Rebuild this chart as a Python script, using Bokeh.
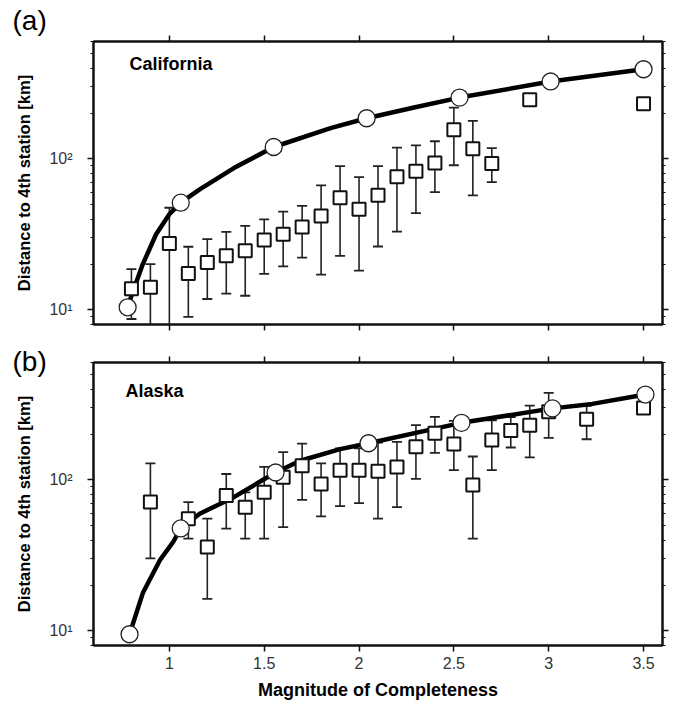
from bokeh.plotting import figure
from bokeh.models import (Range1d, FixedTicker, LogAxis, LinearAxis, Label,
                          CustomJSTickFormatter)
from bokeh.layouts import column
from bokeh.embed import file_html
from bokeh.resources import INLINE

# ---------------- data ----------------
x_ticks = [1, 1.5, 2, 2.5, 3, 3.5]
y_major = [10, 100]
y_minor = [8, 9, 20, 30, 40, 50, 60, 70, 80, 90, 200, 300, 400, 500, 600]

# (a) California
ca_sq_x = [0.8, 0.9, 1.0, 1.1, 1.2, 1.3, 1.4, 1.5, 1.6, 1.7, 1.8, 1.9, 2.0,
           2.1, 2.2, 2.3, 2.4, 2.5, 2.6, 2.7, 2.9, 3.5]
ca_sq_y = [13.8, 14.1, 27.5, 17.4, 20.6, 22.8, 24.6, 29.0, 31.7, 35.4, 41.9,
           55.3, 46.4, 57.4, 76.1, 82.9, 94.1, 156, 117, 93.2, 247, 232]
ca_err_x = [0.8, 0.9, 1.0, 1.1, 1.2, 1.3, 1.4, 1.5, 1.6, 1.7, 1.8, 1.9, 2.0,
            2.1, 2.2, 2.3, 2.4, 2.5, 2.6, 2.7]
ca_err_hi = [18.6, 20.1, 47.5, 26.2, 29.4, 32.9, 36.0, 39.8, 44.7, 48.8, 66.8,
             89.5, 75.7, 89.5, 119, 123, 131, 219, 179, 118]
ca_err_lo = [8.7, 7.0, 7.0, 9.0, 11.8, 12.8, 12.4, 17.3, 19.4, 22.2, 17.1,
             22.8, 18.2, 26.3, 33.0, 43.7, 60.3, 90.8, 57.4, 70.2]
ca_circ_x = [0.78, 1.06, 1.55, 2.04, 2.53, 3.01, 3.5]
ca_circ_y = [10.4, 51.3, 120, 186, 255, 326, 393]
ca_curve_x = [0.78, 0.80, 0.86, 0.93, 1.0, 1.06, 1.16, 1.34, 1.55, 1.85,
              2.04, 2.29, 2.53, 3.01, 3.5]
ca_curve_y = [10.4, 12.4, 20.1, 31.7, 43, 51.3, 62.8, 87, 120, 160, 186,
              219, 255, 326, 393]

# (b) Alaska
ak_sq_x = [0.9, 1.1, 1.2, 1.3, 1.4, 1.5, 1.6, 1.7, 1.8, 1.9, 2.0, 2.1, 2.2,
           2.3, 2.4, 2.5, 2.6, 2.7, 2.8, 2.9, 3.0, 3.2, 3.5]
ak_sq_y = [71.3, 55.4, 36.0, 78.9, 66.0, 82.8, 104, 124, 94, 116, 116, 114,
           122, 166, 204, 173, 92.7, 184, 213, 230, 283, 252, 300]
ak_err_x = [0.9, 1.1, 1.2, 1.3, 1.4, 1.5, 1.6, 1.7, 1.8, 1.9, 2.0, 2.1, 2.2,
            2.3, 2.4, 2.5, 2.6, 2.7, 2.8, 2.9, 3.0, 3.2]
ak_err_hi = [128.6, 71.3, 55.4, 109.5, 82.8, 122, 153, 174, 128.6, 162, 162,
             177, 179, 231, 262, 246, 143, 248, 261, 311, 377, 311]
ak_err_lo = [30.2, 40.9, 16.3, 47.6, 40.9, 40.9, 48.7, 73.8, 57.3, 67, 70.2,
             55.4, 66, 101.6, 151, 116, 40.9, 116, 164, 141, 190, 186]
ak_circ_x = [0.79, 1.06, 1.56, 2.05, 2.54, 3.02, 3.51]
ak_circ_y = [9.5, 47.7, 112, 175, 239, 298, 368]
ak_curve_x = [0.79, 0.86, 0.95, 1.02, 1.06, 1.16, 1.34, 1.49, 1.56, 1.69,
              1.9, 2.05, 2.54, 3.02, 3.23, 3.51]
ak_curve_y = [9.5, 17.8, 29.4, 38.8, 47.7, 59.7, 76.9, 99.5, 112, 134, 160,
              175, 239, 298, 319, 368]

FONT = "Liberation Sans"
DARK = "#111111"

y_fmt_code = """
if (Math.abs(tick - 10) < 1e-6) return '10\u00b9';
if (Math.abs(tick - 100) < 1e-6) return '10\u00b2';
return '';
"""


def style_axis(ax, show_labels):
    ax.axis_line_color = DARK
    ax.axis_line_width = 2
    ax.major_tick_line_color = DARK
    ax.major_tick_line_width = 1.5
    ax.minor_tick_line_color = DARK
    ax.minor_tick_line_width = 1.2
    ax.major_tick_in = 0
    ax.major_tick_out = 6
    ax.minor_tick_in = 0
    ax.minor_tick_out = 3
    ax.major_label_text_font = FONT
    ax.major_label_text_color = "#333333"
    if not show_labels:
        ax.major_label_text_font_size = "0px"
        ax.major_label_standoff = 0
        ax.formatter = CustomJSTickFormatter(code="return '';")


def make_panel(title_letter, title_standoff, region, sq_x, sq_y, err_x,
               err_hi, err_lo, circ_x, circ_y, curve_x, curve_y, top_border,
               bottom_border, show_x_labels, region_x, region_y):
    p = figure(frame_width=569, frame_height=283, y_axis_type="log",
               x_range=Range1d(0.6, 3.6), y_range=Range1d(8, 600),
               min_border_left=93, min_border_right=8,
               min_border_top=top_border, min_border_bottom=bottom_border,
               output_backend="svg", toolbar_location=None,
               background_fill_color="white", border_fill_color="white",
               title=title_letter)
    p.title.text_font = FONT
    p.title.text_font_size = "28px"
    p.title.text_font_style = "normal"
    p.title.text_color = "#000000"
    p.title.align = "left"
    p.title.offset = -81
    p.title.standoff = title_standoff

    p.grid.visible = False
    p.outline_line_color = DARK
    p.outline_line_width = 2

    xt = FixedTicker(ticks=x_ticks, minor_ticks=[])
    yt = FixedTicker(ticks=y_major, minor_ticks=y_minor)

    # bottom axis
    xa = p.xaxis[0]
    xa.ticker = xt
    style_axis(xa, show_x_labels)
    if show_x_labels:
        xa.formatter = CustomJSTickFormatter(code="return String(tick);")
        xa.major_label_text_font_size = "16px"
        xa.major_label_standoff = 5
        xa.axis_label = "Magnitude of Completeness"
        xa.axis_label_text_font = FONT
        xa.axis_label_text_font_style = "bold"
        xa.axis_label_text_font_size = "18px"
        xa.axis_label_text_color = "#000000"
        xa.axis_label_standoff = 8

    # left axis
    ya = p.yaxis[0]
    ya.ticker = yt
    style_axis(ya, True)
    ya.formatter = CustomJSTickFormatter(code=y_fmt_code)
    ya.major_label_text_font_size = "16px"
    ya.major_label_standoff = 15
    ya.axis_label = "Distance to 4th station [km]"
    ya.axis_label_text_font = FONT
    ya.axis_label_text_font_style = "bold"
    ya.axis_label_text_font_size = "16.5px"
    ya.axis_label_text_color = "#000000"
    ya.axis_label_standoff = 13

    # mirrored axes
    ra = LogAxis(ticker=FixedTicker(ticks=y_major, minor_ticks=y_minor))
    style_axis(ra, False)
    p.add_layout(ra, "right")
    ta = LinearAxis(ticker=FixedTicker(ticks=x_ticks, minor_ticks=[]))
    style_axis(ta, False)
    p.add_layout(ta, "above")

    # error bars
    p.segment(x0=err_x, y0=err_lo, x1=err_x, y1=err_hi,
              line_color="#222222", line_width=1.6)
    p.scatter(x=err_x, y=err_hi, marker="dash", size=10,
              line_color="#222222", line_width=1.8)
    p.scatter(x=err_x, y=err_lo, marker="dash", size=10,
              line_color="#222222", line_width=1.8)
    # curve
    p.line(x=curve_x, y=curve_y, line_color="#000000", line_width=4.5,
           line_join="round", line_cap="round")
    # squares
    p.scatter(x=sq_x, y=sq_y, marker="square", size=13,
              fill_color="white", line_color="#111111", line_width=2)
    # circles
    p.scatter(x=circ_x, y=circ_y, marker="circle", size=17,
              fill_color="white", line_color="#222222", line_width=1.3)

    p.add_layout(Label(x=region_x, y=region_y, x_units="screen",
                       y_units="screen", text=region, text_font=FONT,
                       text_font_style="bold", text_font_size="18px",
                       text_baseline="middle", text_color="#000000"))
    return p


p1 = make_panel("(a)", 0, "California", ca_sq_x, ca_sq_y, ca_err_x,
                ca_err_hi, ca_err_lo, ca_circ_x, ca_circ_y, ca_curve_x,
                ca_curve_y, 41, 12, False, 36, 261)
p2 = make_panel("(b)", -40, "Alaska", ak_sq_x, ak_sq_y, ak_err_x, ak_err_hi,
                ak_err_lo, ak_circ_x, ak_circ_y, ak_curve_x, ak_curve_y,
                26, 56, True, 32, 255)

layout = column(p1, p2, spacing=0)

open("out.html", "w").write(file_html(layout, INLINE))
